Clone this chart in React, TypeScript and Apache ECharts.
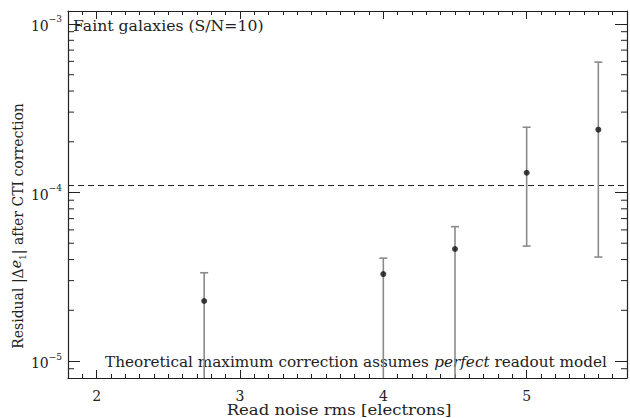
import React, { useEffect, useRef } from 'react';
import * as echarts from 'echarts';

// Data
const readNoise = [2.75, 4, 4.5, 5, 5.5];
const residual = [2.27e-5, 3.28e-5, 4.62e-5, 1.31e-4, 2.36e-4];
const upperErr = [3.34e-5, 4.08e-5, 6.27e-5, 2.44e-4, 5.94e-4];
// first three lower bounds fall below the plotted range
const lowerErr = [1e-6, 1e-6, 1e-6, 4.81e-5, 4.14e-5];
const threshold = 1.1e-4;
const xMin = 1.8;
const xMax = 5.7;
const yMin = 7.93e-6;
const yMax = 1.194e-3;
const yMinorTicks = [
  9e-6,
  2e-5, 3e-5, 4e-5, 5e-5, 6e-5, 7e-5, 8e-5, 9e-5,
  2e-4, 3e-4, 4e-4, 5e-4, 6e-4, 7e-4, 8e-4, 9e-4,
];

const FONT = 'DejaVu Serif';
const INK = '#222';

export default function App() {
  const ref = useRef<HTMLDivElement>(null);
  useEffect(() => {
    if (!ref.current) return;
    const chart = echarts.init(ref.current, undefined, { renderer: 'svg' });

    const xAxisBase = {
      type: 'value',
      min: xMin,
      max: xMax,
      splitNumber: 4,
      splitLine: { show: false },
      axisLine: { show: true, onZero: false, lineStyle: { color: INK, width: 1.2 } },
      axisTick: { show: true, inside: true, length: 8, lineStyle: { color: INK, width: 1 } },
      minorTick: { show: true, splitNumber: 10, length: 4, lineStyle: { color: INK, width: 1 } },
    };
    const yAxisBase = {
      type: 'log',
      logBase: 10,
      min: yMin,
      max: yMax,
      splitLine: { show: false },
      axisLine: { show: true, lineStyle: { color: INK, width: 1.2 } },
      axisTick: { show: true, inside: true, length: 12, lineStyle: { color: INK, width: 1 } },
    };

    const labelFmt = (v: number) => {
      const l = Math.log10(v);
      const e = Math.round(l);
      if (Math.abs(l - e) > 0.01) return '';
      return '{b|10}{s|−' + Math.abs(e) + '}';
    };

    chart.setOption({
      animation: false,
      grid: { left: 68, right: 1, top: 11, bottom: 40, containLabel: false },
      xAxis: [
        {
          ...xAxisBase,
          position: 'bottom',
          axisLabel: {
            show: true,
            margin: 11,
            fontFamily: FONT,
            fontSize: 14,
            color: INK,
            formatter: (v: number) => (Math.abs(v - Math.round(v)) < 1e-6 ? String(Math.round(v)) : ''),
          },
        },
        { ...xAxisBase, position: 'top', axisLabel: { show: false } },
      ],
      yAxis: [
        {
          ...yAxisBase,
          position: 'left',
          axisLabel: {
            show: true,
            margin: 6,
            showMinLabel: false,
            showMaxLabel: false,
            formatter: labelFmt,
            rich: {
              b: { fontFamily: FONT, fontSize: 14, color: INK, lineHeight: 18, verticalAlign: 'bottom' },
              s: { fontFamily: FONT, fontSize: 9, color: INK, lineHeight: 18, verticalAlign: 'top' },
            },
          },
        },
        { ...yAxisBase, position: 'right', axisLabel: { show: false } },
      ],
      series: [
        {
          type: 'custom',
          name: 'minorTicks',
          silent: true,
          data: yMinorTicks.map((v) => [xMin, v]),
          renderItem: (params: any, api: any) => {
            const cs = params.coordSys;
            const y = api.coord([api.value(0), api.value(1)])[1];
            const st = { stroke: INK, lineWidth: 1 };
            return {
              type: 'group',
              children: [
                { type: 'line', shape: { x1: cs.x, y1: y, x2: cs.x + 6, y2: y }, style: st },
                { type: 'line', shape: { x1: cs.x + cs.width - 6, y1: y, x2: cs.x + cs.width, y2: y }, style: st },
              ],
            };
          },
          z: 3,
        },
        {
          type: 'line',
          name: 'threshold',
          silent: true,
          data: [[xMin, threshold], [xMax, threshold]],
          symbol: 'none',
          lineStyle: { color: INK, width: 1, type: [6, 4] },
          z: 2,
        },
        {
          type: 'custom',
          name: 'errors',
          silent: true,
          data: readNoise.map((x, i) => [x, lowerErr[i], upperErr[i]]),
          renderItem: (params: any, api: any) => {
            const cs = params.coordSys;
            const x = api.value(0);
            const top = api.coord([x, api.value(2)]);
            const bot = api.coord([x, api.value(1)]);
            const bottomEdge = cs.y + cs.height;
            const yBot = Math.min(bot[1], bottomEdge);
            const st = { stroke: '#8a8a8a', lineWidth: 1.6 };
            const children: any[] = [
              { type: 'line', shape: { x1: top[0], y1: top[1], x2: top[0], y2: yBot }, style: st },
              { type: 'line', shape: { x1: top[0] - 4, y1: top[1], x2: top[0] + 4, y2: top[1] }, style: st },
            ];
            if (bot[1] < bottomEdge) {
              children.push({ type: 'line', shape: { x1: bot[0] - 4, y1: bot[1], x2: bot[0] + 4, y2: bot[1] }, style: st });
            }
            return { type: 'group', children };
          },
          z: 4,
        },
        {
          type: 'scatter',
          name: 'residual',
          data: readNoise.map((x, i) => [x, residual[i]]),
          symbol: 'circle',
          symbolSize: 6,
          itemStyle: { color: '#111' },
          z: 5,
        },
      ],
      graphic: [
        {
          type: 'text',
          x: 73,
          y: 26,
          scaleX: 1.12,
          style: {
            text: 'Faint galaxies (S/N=10)',
            fontFamily: FONT,
            fontSize: 14,
            fill: INK,
            align: 'left',
            verticalAlign: 'middle',
          },
        },
        {
          type: 'text',
          x: 105,
          y: 362,
          scaleX: 1.09,
          z: 1,
          style: {
            text: 'Theoretical maximum correction assumes {i|perfect} readout model',
            fontFamily: FONT,
            fontSize: 14,
            fill: INK,
            align: 'left',
            verticalAlign: 'middle',
            rich: { i: { fontFamily: FONT, fontStyle: 'italic', fontSize: 14, fill: INK } },
          },
        },
        {
          type: 'text',
          x: 339,
          y: 410,
          scaleX: 1.1,
          style: {
            text: 'Read noise rms [electrons]',
            fontFamily: FONT,
            fontSize: 15,
            fill: INK,
            align: 'center',
            verticalAlign: 'middle',
          },
        },
        {
          type: 'text',
          x: 18,
          y: 226,
          rotation: Math.PI / 2,
          style: {
            text: 'Residual |Δ{i|e}{sub|1}| after CTI correction',
            fontFamily: FONT,
            fontSize: 14,
            fill: INK,
            align: 'center',
            verticalAlign: 'middle',
            rich: {
              i: { fontFamily: FONT, fontStyle: 'italic', fontSize: 14, fill: INK, lineHeight: 18, verticalAlign: 'top' },
              sub: { fontFamily: FONT, fontSize: 9, fill: INK, lineHeight: 18, verticalAlign: 'bottom' },
            },
          },
        },
      ],
    });
    return () => chart.dispose();
  }, []);
  return (
    <div
      ref={ref}
      style={{ position: 'fixed', left: 0, top: 0, width: 630, height: 418, background: '#fff' }}
    />
  );
}
